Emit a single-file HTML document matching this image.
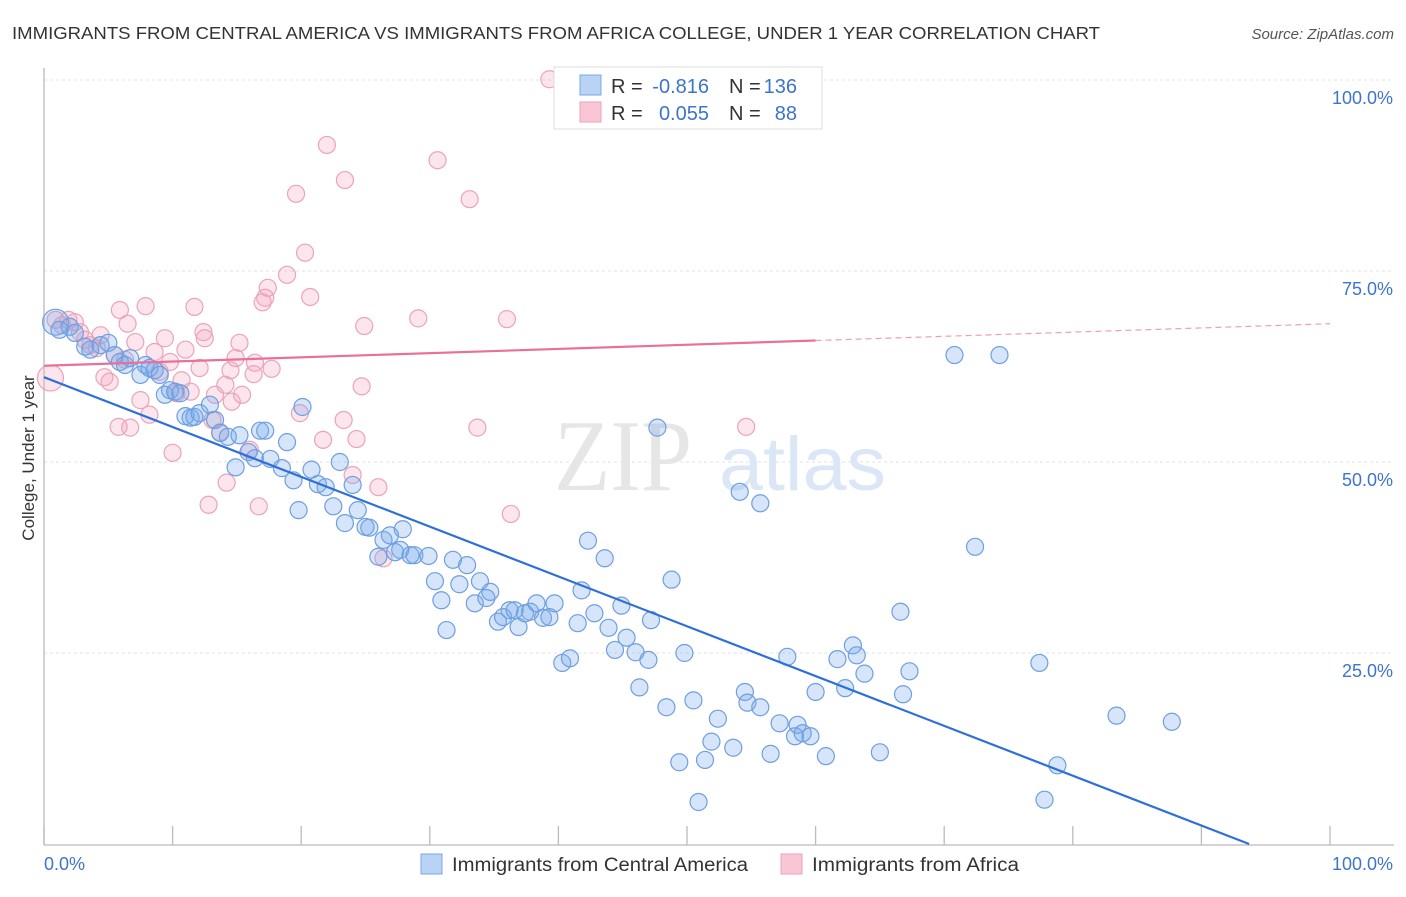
<!DOCTYPE html>
<html><head><meta charset="utf-8"><style>
body{margin:0;background:#fff;font-family:"Liberation Sans",sans-serif;}
svg text{font-family:"Liberation Sans",sans-serif;}
</style></head><body>
<svg id="chart" width="1406" height="892" xmlns="http://www.w3.org/2000/svg">
<text x="12" y="39" font-size="17.5" fill="#333" textLength="1088" lengthAdjust="spacingAndGlyphs">IMMIGRANTS FROM CENTRAL AMERICA VS IMMIGRANTS FROM AFRICA COLLEGE, UNDER 1 YEAR CORRELATION CHART</text>
<text x="1394" y="39" font-size="15" fill="#555" font-style="italic" text-anchor="end">Source: ZipAtlas.com</text>
<g id="grid"></g>
<g>
<text x="554" y="490" font-size="102" fill="#e6e6e6" style="font-family:'Liberation Serif',serif" textLength="138" lengthAdjust="spacingAndGlyphs">ZIP</text>
<text x="719" y="490" font-size="76" fill="#dbe7f6" textLength="167" lengthAdjust="spacingAndGlyphs">atlas</text></g>
<g id="axes"></g>
<g id="pinkdots"></g>
<g id="bluedots"></g>
<g id="lines"></g>
<text transform="translate(34,458) rotate(-90)" font-size="17" fill="#333" text-anchor="middle">College, Under 1 year</text>
<g>
<rect x="554" y="67" width="268" height="62" fill="#fff" stroke="#ddd"/>
<rect x="580" y="75" width="21" height="20" fill="#b9d3f5" stroke="#7ba7e3"/>
<rect x="580" y="102" width="21" height="20" fill="#f9c6d6" stroke="#eda0b9"/>
<g font-size="20" fill="#333">
<text x="611" y="93">R =</text><text x="709" y="93" text-anchor="end" fill="#3d74cc">-0.816</text>
<text x="729" y="93">N =</text><text x="797" y="93" text-anchor="end" fill="#3d74cc">136</text>
<text x="611" y="120">R =</text><text x="709" y="120" text-anchor="end" fill="#3d74cc">0.055</text>
<text x="729" y="120">N =</text><text x="797" y="120" text-anchor="end" fill="#3d74cc">88</text>
</g>
</g>
<g>
<rect x="421" y="854" width="21" height="20" fill="#b9d3f5" stroke="#7ba7e3"/>
<text x="452" y="871" font-size="19" fill="#333" textLength="296" lengthAdjust="spacingAndGlyphs">Immigrants from Central America</text>
<rect x="781" y="854" width="21" height="20" fill="#f9c6d6" stroke="#eda0b9"/>
<text x="812" y="871" font-size="19" fill="#333" textLength="207" lengthAdjust="spacingAndGlyphs">Immigrants from Africa</text>
</g>
</svg>
<script>
const yTicks=[100,75,50,25];
const yTickLabels=["100.0%","75.0%","50.0%","25.0%"];
const xTickLabels=["0.0%","100.0%"];
const bluePx=[[55,322],[60,330],[70,327],[75,333],[85,347],[90,350],[100,345],[108,343],[115,355],[120,362],[125,365],[130,358],[140,375],[145,365],[150,368],[155,370],[160,375],[165,395],[170,390],[175,392],[180,393],[185,416],[190,418],[195,417],[200,413],[210,405],[215,420],[220,433],[228,437],[235,467],[240,435],[248,452],[255,458],[260,431],[265,431],[270,459],[282,468],[287,442],[293,480],[299,510],[303,407],[312,470],[318,484],[325,487],[333,506],[340,462],[345,523],[352,485],[358,510],[365,527],[370,528],[378,557],[383,540],[390,535],[395,552],[400,550],[403,529],[410,555],[415,555],[428,556],[435,581],[442,600],[447,630],[453,560],[460,584],[467,565],[475,603],[480,581],[487,598],[490,592],[498,622],[503,617],[510,610],[515,610],[518,627],[525,613],[530,612],[537,603],[543,618],[550,617],[555,603],[562,663],[570,658],[578,623],[582,590],[588,541],[595,613],[605,558],[608,628],[615,650],[622,606],[627,638],[635,652],[640,687],[648,660],[651,620],[667,707],[672,580],[679,762],[685,653],[693,700],[698,802],[705,760],[712,742],[718,719],[733,748],[740,492],[745,692],[748,703],[760,503],[760,707],[770,754],[779,723],[787,657],[795,736],[798,725],[803,733],[810,736],[815,692],[826,756],[838,659],[845,688],[853,645],[857,655],[865,674],[880,752],[900,612],[903,694],[910,671],[955,355],[975,547],[1000,355],[1040,663],[1045,800],[1058,765],[1117,716],[1172,722],[658,428]];
const pinkPx=[[50,378],[55,320],[62,325],[68,320],[75,322],[80,332],[85,340],[90,345],[97,348],[100,335],[105,377],[110,382],[115,355],[120,310],[118,427],[125,360],[128,324],[130,428],[135,342],[140,400],[145,306],[150,415],[155,352],[160,372],[165,338],[170,362],[173,453],[177,393],[182,380],[186,350],[190,392],[195,307],[200,368],[203,332],[205,338],[208,505],[213,420],[215,395],[220,432],[225,385],[227,483],[230,370],[232,402],[235,358],[240,343],[242,395],[250,450],[253,374],[255,363],[259,506],[262,302],[265,298],[268,288],[272,369],[287,275],[296,194],[300,413],[305,253],[310,297],[323,440],[327,145],[343,420],[345,180],[352,475],[357,439],[362,386],[364,326],[378,487],[384,558],[418,318],[437,160],[470,199],[477,428],[507,319],[511,514],[550,79],[746,427]];
// data values in percent
const blueX=bluePx.map(p=>+((p[0]-44)/12.86).toFixed(1));
const blueY=bluePx.map(p=>+((844-p[1])/7.64).toFixed(1));
const pinkX=pinkPx.map(p=>+((p[0]-44)/12.86).toFixed(1));
const pinkY=pinkPx.map(p=>+((844-p[1])/7.64).toFixed(1));
const blueTrend=[61.1,-4.1];
const pinkTrend=[62.6,68.1];
const NS="http://www.w3.org/2000/svg";
const sx=v=>44+v*12.86, sy=v=>844-v*7.64;
function mk(tag,attrs,parent){const e=document.createElementNS(NS,tag);for(const k in attrs)e.setAttribute(k,attrs[k]);document.getElementById(parent).appendChild(e);return e;}
yTicks.forEach((t,i)=>{
 const g=mk('line',{x1:44,x2:1394,y1:sy(t),y2:sy(t),stroke:'#e2e2e2','stroke-dasharray':'3,3'},'grid');
 
 
 const tx=mk('text',{x:1393,y:sy(t)+24,'font-size':18,fill:'#3d74cc','text-anchor':'end'},'grid');tx.textContent=yTickLabels[i];
 
 
});
const xa=mk('line',{x1:44,x2:1394,y1:845,y2:845,stroke:'#bbb','stroke-width':1.3},'axes');


const ya=mk('line',{x1:44,x2:44,y1:68,y2:845,stroke:'#bbb','stroke-width':1.3},'axes');


for(let i=0;i<=10;i++){const t=mk('line',{x1:sx(i*10),x2:sx(i*10),y1:826,y2:845,stroke:'#bbb','stroke-width':1.3},'axes');
 
 }
const l0=mk('text',{x:44,y:870,'font-size':18,fill:'#3d74cc'},'axes');l0.textContent=xTickLabels[0];


const l1=mk('text',{x:1393,y:870,'font-size':18,fill:'#3d74cc','text-anchor':'end'},'axes');l1.textContent=xTickLabels[1];


pinkX.forEach((x,i)=>{const c=mk('circle',{cx:sx(x),cy:sy(pinkY[i]),r:i==0?13:8.5,fill:'rgba(244,160,190,0.28)',stroke:'#eba3bb','stroke-width':1.2},'pinkdots');
 
 });
blueX.forEach((x,i)=>{const c=mk('circle',{cx:sx(x),cy:sy(blueY[i]),r:i==0?13:8.5,fill:'rgba(120,170,235,0.3)',stroke:'#6e9fe0','stroke-width':1.2},'bluedots');
 
 });
const bx1=blueTrend[0]/(blueTrend[0]-blueTrend[1])*100;
const bl=mk('line',{x1:sx(0),y1:sy(blueTrend[0]),x2:sx(bx1),y2:sy(0),stroke:'#2e6fd8','stroke-width':2.2},'lines');


const pm=pinkTrend[0]+(pinkTrend[1]-pinkTrend[0])*0.6;
const pl=mk('line',{x1:sx(0),y1:sy(pinkTrend[0]),x2:sx(60),y2:sy(pm),stroke:'#e8709a','stroke-width':2.2},'lines');


const pd=mk('line',{x1:sx(60),y1:sy(pm),x2:sx(100),y2:sy(pinkTrend[1]),stroke:'#e8a0b8','stroke-width':1.2,'stroke-dasharray':'6,4'},'lines');


</script>
</body></html>
